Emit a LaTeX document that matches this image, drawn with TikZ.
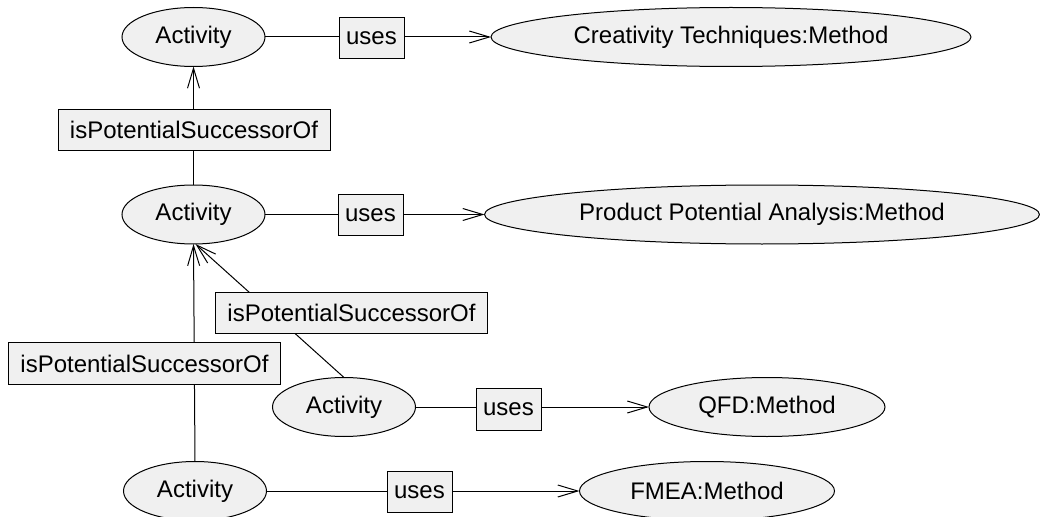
\documentclass[tikz,border=0pt]{standalone}
\usepackage{fontspec}
\setmainfont{Liberation Sans}
\usetikzlibrary{shapes.geometric,arrows.meta}
\definecolor{nodefill}{RGB}{240,240,240}
\tikzset{
  base/.style={draw=black, line width=0.75pt, fill=nodefill, inner sep=0pt, outer sep=0pt,
    font=\fontsize{18pt}{21pt}\selectfont, text=black},
  ell/.style={base, ellipse, minimum height=44.25pt},
  act/.style={ell, minimum width=107.25pt},
  lbl/.style={base, rectangle, minimum height=31pt},
  usesbox/.style={lbl, minimum width=48.75pt},
  succbox/.style={lbl, minimum width=204pt},
  conn/.style={draw=black, line width=0.75pt},
  arr/.style={conn, -{Straight Barb[length=15pt,width=9pt,line width=0.75pt]}}
}
\begin{document}
\begin{tikzpicture}[x=0.75pt,y=-0.75pt]
\useasboundingbox (0,0) rectangle (1040,517);
% ellipses
\node[act] (a1) at (193.5,37) {Activity};
\node[ell, minimum width=360pt] (m1) at (731,37) {Creativity Techniques:Method};
\node[act] (a2) at (193.5,214.5) {Activity};
\node[ell, minimum width=416.25pt] (m2) at (762,214.5) {Product Potential Analysis:Method};
\node[act] (a3) at (344,407) {Activity};
\node[ell, minimum width=177pt] (m3) at (767,407) {QFD:Method};
\node[act] (a4) at (195,491) {Activity};
\node[ell, minimum width=191.25pt] (m4) at (707,491) {FMEA:Method};
% connectors
\draw[arr] (a1) -- (m1);
\draw[arr] (a2) -- (m2);
\draw[arr] (a3) -- (m3);
\draw[arr] (a4) -- (m4);
\draw[arr] (a2.north) -- (a1.south);
\draw[arr] (a3.north) -- ([xshift=1.5]a2.south);
\draw[arr] (a4.north) -- (a2.south);
% labels
\node[usesbox] (u1) at (371.5,38) {uses};
\node[usesbox] (u2) at (370.5,215) {uses};
\node[usesbox] (u3) at (508.5,409.5) {uses};
\node[usesbox] (u4) at (419.5,492) {uses};
\node[succbox] (s1) at (194,130) {isPotentialSuccessorOf};
\node[succbox] (s2) at (351.5,313) {isPotentialSuccessorOf};
\node[succbox] (s3) at (144.5,363.5) {isPotentialSuccessorOf};
\end{tikzpicture}
\end{document}
